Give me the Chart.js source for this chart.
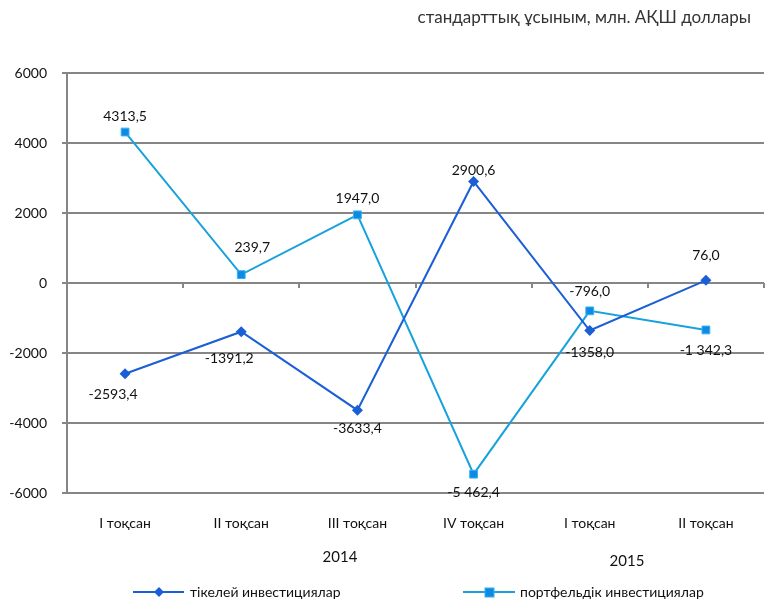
<!DOCTYPE html>
<html>
<head>
<meta charset="utf-8">
<script src="https://cdn.jsdelivr.net/npm/chart.js@4/dist/chart.umd.min.js"></script>
<style>
  html, body { margin: 0; padding: 0; background: #ffffff; }
  #wrap { position: relative; width: 779px; height: 600px; }
</style>
</head>
<body>
<div id="wrap"><canvas id="c" width="779" height="600"></canvas></div>
<script>
// ---- data ----
const categories = ["I тоқсан", "II тоқсан", "III тоқсан", "IV тоқсан", "I тоқсан", "II тоқсан"];
const years = ["2014", "2015"];
const directValues = [-2593.4, -1391.2, -3633.4, 2900.6, -1358.0, 76.0];
const portfolioValues = [4313.5, 239.7, 1947.0, -5462.4, -796.0, -1342.3];
const directLabels = ["-2593,4", "-1391,2", "-3633,4", "2900,6", "-1358,0", "76,0"];
const portfolioLabels = ["4313,5", "239,7", "1947,0", "-5 462,4", "-796,0", "-1 342,3"];
const seriesNames = ["тікелей инвестициялар", "портфельдік инвестициялар"];
const titleText = "стандарттық ұсыным, млн. АҚШ доллары";
const yTicks = [-6000, -4000, -2000, 0, 2000, 4000, 6000];

const FONT = "Lato, 'Open Sans', sans-serif";
const directColor = "#1a5fd6";
const portfolioLine = "#18a2dc";
const portfolioMarker = "#0b8ae6";
const gridColor = "#868686";

// label placement (style, not data): [dx, dy] from point
const directLabelOffsets = [[-12, 21], [-12, 27], [0, 18], [0, -11], [0, 22], [0, -25]];
const portfolioLabelOffsets = [[0, -16], [11, -27], [0, -16], [0, 18], [0, -19], [0, 21]];

const overlay = {
  id: 'overlay',
  afterDatasetsDraw(chart) {
    const ctx = chart.ctx;
    const x = chart.scales.x, y = chart.scales.y;
    const area = chart.chartArea;
    ctx.save();
    // tick marks on zero line
    const y0 = y.getPixelForValue(0);
    ctx.strokeStyle = gridColor;
    ctx.lineWidth = 2;
    const n = categories.length;
    const step = (area.right - area.left) / n;
    for (let i = 1; i <= n; i++) {
      const px = Math.round(area.left + step * i);
      ctx.beginPath();
      ctx.moveTo(px, y0);
      ctx.lineTo(px, y0 + 5);
      ctx.stroke();
    }
    // data labels
    ctx.fillStyle = "#111";
    ctx.font = "14px " + FONT;
    ctx.textAlign = "center";
    ctx.textBaseline = "middle";
    const draw = (dsIndex, labels, offs) => {
      const meta = chart.getDatasetMeta(dsIndex);
      meta.data.forEach((pt, i) => {
        ctx.fillText(labels[i], pt.x + offs[i][0], pt.y + offs[i][1]);
      });
    };
    draw(0, directLabels, directLabelOffsets);
    draw(1, portfolioLabels, portfolioLabelOffsets);

    // year labels
    ctx.font = "15px " + FONT;
    ctx.fillStyle = "#111";
    ctx.fillText(years[0], 340, 557);
    ctx.fillText(years[1], 627, 561);

    // title
    ctx.font = "17px " + FONT;
    ctx.fillStyle = "#333";
    ctx.textAlign = "right";
    ctx.fillText(titleText, 751, 18);

    // legend
    const ly = 592;
    ctx.font = "14px " + FONT;
    ctx.textAlign = "left";
    // item 1
    ctx.strokeStyle = directColor;
    ctx.lineWidth = 2;
    ctx.beginPath(); ctx.moveTo(133, ly); ctx.lineTo(184, ly); ctx.stroke();
    ctx.fillStyle = directColor;
    ctx.beginPath();
    ctx.moveTo(159, ly - 5); ctx.lineTo(164, ly); ctx.lineTo(159, ly + 5); ctx.lineTo(154, ly);
    ctx.closePath(); ctx.fill();
    ctx.fillStyle = "#111";
    ctx.fillText(seriesNames[0], 190, ly);
    // item 2
    ctx.strokeStyle = portfolioLine;
    ctx.beginPath(); ctx.moveTo(463, ly); ctx.lineTo(515, ly); ctx.stroke();
    ctx.fillStyle = portfolioMarker;
    ctx.fillRect(485, ly - 4, 9, 9);
    ctx.strokeStyle = "#3ab0ec";
    ctx.lineWidth = 1;
    ctx.strokeRect(485, ly - 4, 9, 9);
    ctx.fillStyle = "#111";
    ctx.fillText(seriesNames[1], 520, ly);
    ctx.restore();
  }
};

new Chart(document.getElementById('c'), {
  type: 'line',
  data: {
    labels: categories,
    datasets: [
      {
        label: seriesNames[0],
        data: directValues,
        borderColor: directColor,
        backgroundColor: directColor,
        borderWidth: 2,
        pointStyle: 'rectRot',
        pointRadius: 5.5,
        pointBorderWidth: 0,
        pointBackgroundColor: directColor,
        tension: 0
      },
      {
        label: seriesNames[1],
        data: portfolioValues,
        borderColor: portfolioLine,
        backgroundColor: portfolioMarker,
        borderWidth: 2,
        pointStyle: 'rect',
        pointRadius: 5.5,
        pointBorderWidth: 1,
        pointBorderColor: "#3ab0ec",
        pointBackgroundColor: portfolioMarker,
        tension: 0
      }
    ]
  },
  options: {
    responsive: false,
    animation: false,
    devicePixelRatio: 1,
    layout: { padding: { left: 0, right: 15, top: 73, bottom: 0 } },
    plugins: { legend: { display: false }, title: { display: false }, tooltip: { enabled: false } },
    scales: {
      x: {
        offset: true,
        grid: { display: false, drawTicks: false },
        border: { display: false },
        ticks: { color: "#111", font: { size: 14, family: FONT }, padding: 22, maxRotation: 0 },
        afterFit(s) { s.height = 107; }
      },
      y: {
        min: -6000, max: 6000,
        afterBuildTicks(s) { s.ticks = yTicks.map(v => ({ value: v })); },
        grid: { color: gridColor, lineWidth: 2, tickLength: 5 },
        border: { display: true, color: gridColor, width: 2 },
        ticks: { color: "#111", font: { size: 14, family: FONT }, padding: 15, callback: v => String(v) },
        afterFit(s) { s.width = 67; }
      }
    }
  },
  plugins: [overlay]
});
</script>
</body>
</html>
